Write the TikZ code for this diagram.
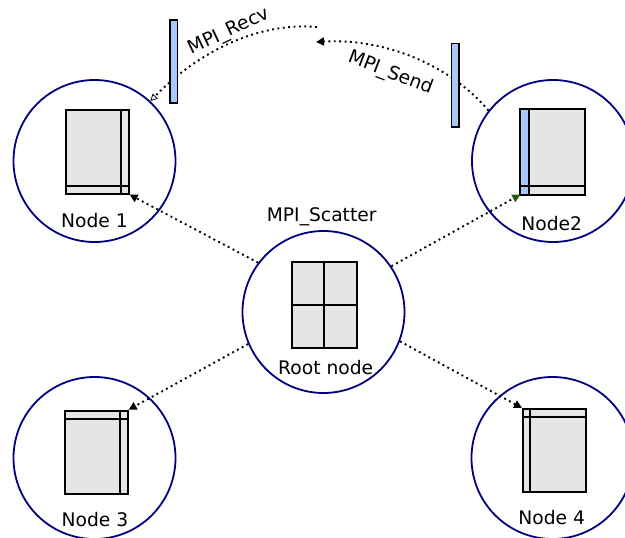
\documentclass[tikz,border=0pt]{standalone}
\usepackage{fontspec}
\setmainfont{DejaVu Sans}
\usetikzlibrary{arrows.meta}
\definecolor{navyc}{RGB}{0,0,128}
\definecolor{docgray}{RGB}{229,229,229}
\definecolor{barblue}{RGB}{168,200,250}
\definecolor{tipgreen}{RGB}{40,90,0}
\begin{document}
\begin{tikzpicture}[x=1pt,y=-1pt,
  proc/.style={circle, draw=navyc, line width=1.8pt, minimum size=162pt, inner sep=0pt},
  doc/.style={draw=black, fill=docgray, line width=1.9pt, inner sep=0pt, anchor=north west},
  docline/.style={draw=black, line width=1.9pt},
  msgbar/.style={draw=black, fill=barblue, line width=1.5pt, inner sep=0pt, minimum width=7.5pt, anchor=north west},
  dotline/.style={line width=1.9pt, dash pattern=on 1.9pt off 3.5pt},
  lbl/.style={font=\fontsize{18.7}{21}\selectfont, inner sep=0pt, anchor=base},
  tipblack/.style={-{Triangle[length=8pt,width=8pt]}},
  tipgreen/.style={-{Triangle[length=8pt,width=8pt,color=tipgreen,fill=tipgreen]}},
  tipopen/.style={-{Triangle[open,length=7pt,width=7pt,line width=0.8pt]}}
]
\useasboundingbox (0,0) rectangle (625,538);
% process circles
\node[proc] (n1) at (94.5,161) {};
\node[proc] (n2) at (553,161) {};
\node[proc] (root) at (323.5,312) {};
\node[proc] (n3) at (94.5,458) {};
\node[proc] (n4) at (552.5,458) {};
% documents
\node[doc, minimum width=62.7pt, minimum height=83.7pt] (r1) at (65,109) {};
\draw[docline] ([xshift=-8.7pt]r1.north east) -- ([xshift=-8.7pt]r1.south east);
\draw[docline] ([yshift=9pt]r1.south west) -- ([yshift=9pt]r1.south east);

\node[doc, draw=none, minimum width=63pt, minimum height=83.7pt] (r2) at (520.3,109) {};
\fill[barblue] (r2.north west) rectangle ([xshift=8.4pt]r2.south west);
\draw[docline] ([xshift=8.4pt]r2.north west) -- ([xshift=8.4pt]r2.south west);
\draw[docline] ([yshift=9pt]r2.south west) -- ([yshift=9pt]r2.south east);
\draw[docline] (r2.north west) rectangle (r2.south east);

\node[doc, minimum width=64.7pt, minimum height=86pt] (r0) at (291,260.7) {};
\draw[docline] (r0.north) -- (r0.south);
\draw[docline] (r0.west) -- (r0.east);

\node[doc, minimum width=63pt, minimum height=83.6pt] (r3) at (63.7,409.7) {};
\draw[docline] ([xshift=-8.4pt]r3.north east) -- ([xshift=-8.4pt]r3.south east);
\draw[docline] ([yshift=-9pt]r3.north west) -- ([yshift=-9pt]r3.north east);

\node[doc, minimum width=62.7pt, minimum height=83.3pt] (r4) at (522,408) {};
\draw[docline] ([xshift=8pt]r4.north west) -- ([xshift=8pt]r4.south west);
\draw[docline] ([yshift=-9pt]r4.north west) -- ([yshift=-9pt]r4.north east);
% labels
\node[lbl] (l1) at (94.5,227.7) {Node 1};
\node[lbl] (l2) at (551.7,230.7) {Node2};
\node[lbl] (l0) at (325.7,374) {Root node};
\node[lbl] (ls) at (321.7,221.7) {MPI\_Scatter};
\node[lbl] (l3) at (95,526.7) {Node 3};
\node[lbl] (l4) at (551.7,524.3) {Node 4};
% scatter connectors
\draw[dotline, tipblack] (root.143.6) -- (r1.south east);
\draw[dotline, tipgreen] (root.34.6) -- (r2.south west);
\draw[dotline, tipblack] (root.-157.4) -- (r3.north east);
\draw[dotline, tipblack] (root.-21.4) -- (r4.north west);
% send / recv arcs
\coordinate (sendEnd) at (316,42);
\coordinate (recvStart) at (317,27);
\draw[dotline, tipblack] (n2.142.8) .. controls (450,65) and (385,38) .. (sendEnd);
\draw[dotline, tipopen] (recvStart) .. controls (260,22) and (200,50) .. (n1.47.6);
% message bars
\node[msgbar, minimum height=83.3pt] (bL) at (169.3,19) {};
\node[msgbar, minimum height=83.3pt] (bR) at (450.9,42.7) {};
% arc labels
\node[font=\fontsize{18.7}{21}\selectfont, inner sep=0pt, rotate=25] (lr) at (229,32) {MPI\_Recv};
\node[font=\fontsize{18.7}{21}\selectfont, inner sep=0pt, rotate=-21] (lsd) at (390.7,73.3) {MPI\_Send};
\end{tikzpicture}
\end{document}
